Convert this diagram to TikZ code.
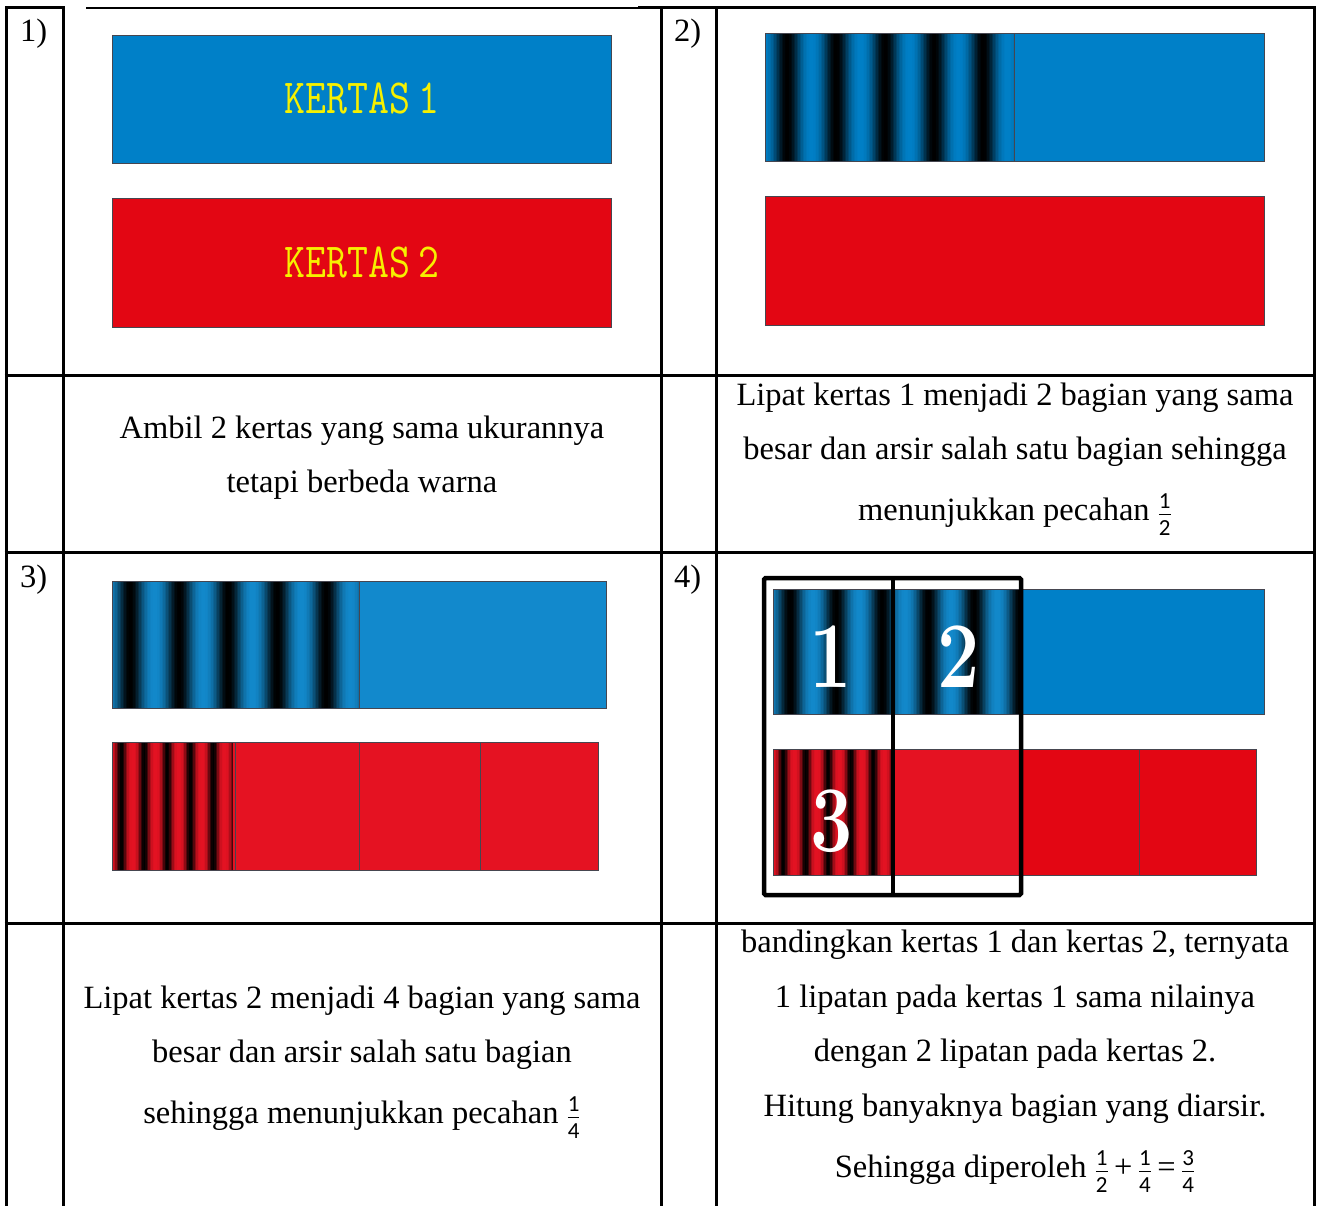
\documentclass[tikz,border=0pt]{standalone}
\usepackage{fontspec}
\setmainfont{Liberation Serif}
\newfontfamily\fracfont{Carlito}
\newfontfamily\digfont{Latin Modern Roman}
\usepackage{graphicx}
\definecolor{kblue}{RGB}{0,128,200}
\definecolor{kbluec}{RGB}{18,137,204}
\definecolor{kred}{RGB}{227,6,19}
\definecolor{kredc}{RGB}{229,18,34}
\definecolor{kyellow}{RGB}{246,240,0}
\definecolor{kedge}{RGB}{70,70,80}
\newcommand\fr[2]{\ensuremath{\frac{\hbox{\fracfont\fontsize{23}{23}\selectfont\rule[-5pt]{0pt}{0pt}#1}}{\hbox{\fracfont\fontsize{23}{23}\selectfont\rule{0pt}{21pt}#2}}}}
% #1 x1, #2 y1, #3 x2, #4 y2, #5 period, #6 dark centre, #7 colour, #8 brightening
\newcommand\stripebox[8]{%
  \pgfmathsetmacro\nn{int(ceil((#3-#1)/1.5))-1}
  \foreach \i in {0,...,\nn}{
    \pgfmathsetmacro\xa{#1+\i*1.5}
    \pgfmathsetmacro\xb{min(\xa+2,#3)}
    \pgfmathsetmacro\ph{mod(\xa+0.75-#6+20*#5,#5)/#5}
    \pgfmathsetmacro\ss{0.5-0.5*cos(360*\ph)}
    \pgfmathsetmacro\m{int(100*(\ss+\ss*(1-\ss)*#8))}
    \fill[#7!\m!black] (\xa,#2) rectangle (\xb,#4);
  }}
\begin{document}
\begin{tikzpicture}[x=1pt,y=-1pt,
  tline/.style={line width=3pt,black},
  body/.style={font=\fontsize{32.5}{34}\selectfont, anchor=base, inner sep=0pt},
  lbl/.style={font=\fontsize{32.5}{34}\selectfont, anchor=base west, inner sep=0pt},
  paper/.style={draw=kedge, line width=0.9pt},
  kertas/.style={font=\ttfamily\fontsize{49}{50}\selectfont, text=kyellow, inner sep=0pt},
  digit/.style={font=\digfont\bfseries\fontsize{94}{94}\selectfont, text=white, inner sep=0pt, anchor=base},
  frame/.style={line width=4.5pt, black, rounded corners=1.5pt}]
\useasboundingbox[fill=white] (0,0) rectangle (1320,1206);

% ---------------- table grid ----------------
\draw[tline] (5,8) -- (63,8);
\draw[line width=1.4pt] (86,8) -- (638,8);
\draw[tline] (638,8) -- (1315.5,8);
\draw[tline] (6,6.5) -- (6,1206);
\draw[tline] (63,6.5) -- (63,1206);
\draw[tline] (661,6.5) -- (661,1206);
\draw[tline] (716,6.5) -- (716,1206);
\draw[tline] (1314,6.5) -- (1314,1206);
\draw[tline] (4.5,375) -- (1315.5,375);
\draw[tline] (4.5,552) -- (1315.5,552);
\draw[tline] (4.5,923) -- (1315.5,923);

% ---------------- labels ----------------
\node[lbl] (l1) at (20,42) {1)};
\node[lbl] (l2) at (674,42) {2)};
\node[lbl] (l3) at (20,587) {3)};
\node[lbl] (l4) at (674,587) {4)};

% ---------------- panel 1 ----------------
\filldraw[paper, fill=kblue] (112,35) rectangle (611,163);
\filldraw[paper, fill=kred] (112,198) rectangle (611,327);
\node[kertas] (k1) at (362,98) {\scalebox{0.83}[1]{KERTAS\hspace{-0.3em} 1}};
\node[kertas] (k2) at (362,262) {\scalebox{0.83}[1]{KERTAS\hspace{-0.3em} 2}};

% ---------------- panel 2 ----------------
\stripebox{765}{33}{1014}{161}{49}{787}{kblue}{0.4}
\fill[kblue] (1014,33) rectangle (1264,161);
\draw[paper] (765,33) rectangle (1264,161);
\draw[paper] (1014,33) -- (1014,161);
\filldraw[paper, fill=kred] (765,196) rectangle (1264,325);

% ---------------- panel 3 ----------------
\stripebox{112}{581}{359}{708}{49}{130}{kbluec}{0.4}
\fill[kbluec] (359,581) rectangle (606,708);
\draw[paper] (112,581) rectangle (606,708);
\draw[paper] (359,581) -- (359,708);
\stripebox{112}{742}{233}{870}{23}{121}{kredc}{0.8}
\fill[kredc] (233,742) rectangle (598,870);
\draw[paper] (112,742) rectangle (598,870);
\draw[paper] (235,742) -- (235,870);
\draw[paper] (359,742) -- (359,870);
\draw[paper] (480,742) -- (480,870);

% ---------------- panel 4 ----------------
\stripebox{773}{589}{1020}{714}{46}{790}{kbluec}{0.4}
\fill[kblue] (1020,589) rectangle (1264,714);
\draw[paper] (773,589) rectangle (1264,714);
\stripebox{773}{749}{893}{875}{22.5}{783}{kredc}{0.8}
\fill[kredc] (893,749) rectangle (1020,875);
\fill[kred] (1020,749) rectangle (1256,875);
\draw[paper] (773,749) rectangle (1256,875);
\draw[paper] (1139,749) -- (1139,875);
\draw[frame] (764,578) rectangle (1021,895);
\draw[frame] (893,578) -- (893,895);
\node[digit] (d1) at (831,687) {\scalebox{0.8}[1]{1}};
\node[digit] (d2) at (959,687) {\scalebox{0.8}[1]{2}};
\node[digit] (d3) at (832,851) {\scalebox{0.8}[1]{3}};

% ---------------- texts ----------------
\node[body] (t1a) at (362,438) {Ambil 2 kertas yang sama ukurannya};
\node[body] (t1b) at (362,492) {tetapi berbeda warna};

\node[body] (t2a) at (1015,405) {Lipat kertas 1 menjadi 2 bagian yang sama};
\node[body] (t2b) at (1015,459) {besar dan arsir salah satu bagian sehingga};
\node[body] (t2c) at (1015,520) {menunjukkan pecahan \fr{1}{2}};

\node[body] (t3a) at (362,1008) {Lipat kertas 2 menjadi 4 bagian yang sama};
\node[body] (t3b) at (362,1062) {besar dan arsir salah satu bagian};
\node[body] (t3c) at (362,1123) {sehingga menunjukkan pecahan \fr{1}{4}};

\node[body] (t4a) at (1015,952) {bandingkan kertas 1 dan kertas 2, ternyata};
\node[body] (t4b) at (1015,1007) {1 lipatan pada kertas 1 sama nilainya};
\node[body] (t4c) at (1015,1061) {dengan 2 lipatan pada kertas 2.};
\node[body] (t4d) at (1015,1116) {Hitung banyaknya bagian yang diarsir.};
\node[body] (t4e) at (1015,1177) {Sehingga diperoleh \fr{1}{2}\,+\,\fr{1}{4}\,=\,\fr{3}{4}};
\end{tikzpicture}
\end{document}
